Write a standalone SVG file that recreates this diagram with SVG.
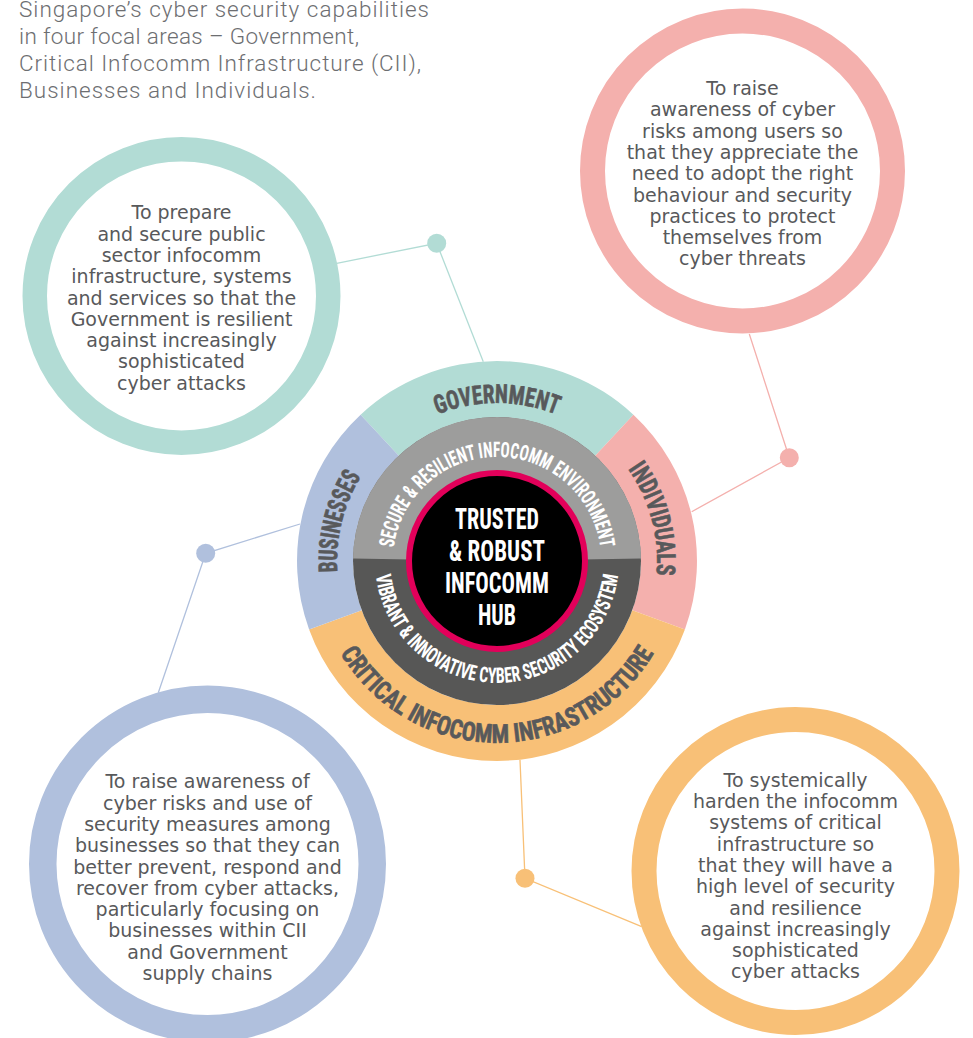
<svg xmlns="http://www.w3.org/2000/svg" width="973" height="1038" viewBox="0 0 973 1038">
<style>
.intro{font-family:Roboto,"Liberation Sans",sans-serif;font-weight:300;font-size:22.5px;fill:#6d6e71}
.desc{font-family:"DejaVu Sans","Liberation Sans",sans-serif;font-size:19px;fill:#58595b;text-anchor:middle}
.lbl{font-family:"Liberation Sans Narrow","Roboto Condensed","DejaVu Sans Condensed","Liberation Sans",sans-serif;font-weight:bold;font-size:26px;fill:#58595b;stroke:#58595b;stroke-width:0.6;text-anchor:middle}
.inner{font-family:"Liberation Sans Narrow","Roboto Condensed","DejaVu Sans Condensed","Liberation Sans",sans-serif;font-weight:bold;font-size:21.5px;fill:#ffffff;text-anchor:middle}
.hub{font-family:"Liberation Sans Narrow","Roboto Condensed","DejaVu Sans Condensed","Liberation Sans",sans-serif;font-weight:bold;font-size:29px;fill:#ffffff;text-anchor:middle}
.ring{fill:#ffffff}
.conn{fill:none;stroke-width:1.3}
</style>
<defs>
<path id="pGov" d="M 348.53 506.96 A 158 158 0 0 1 645.47 506.96"/>
<path id="pInd" d="M 510.94 401.61 A 160 160 0 0 1 588.78 692.07"/>
<path id="pBus" d="M 407.53 693.64 A 160 160 0 0 1 480.28 401.88"/>
<path id="pCii" d="M 317.8 592.6 A 182 182 0 0 0 676.2 592.6"/>
<path id="pSec" d="M 393 561 A 104 104 0 0 1 601 561"/>
<path id="pVib" d="M 375 561 A 122 122 0 0 0 619 561"/>
</defs>
<rect width="973" height="1038" fill="#ffffff"/>

<g id="intro">
<text class="intro" x="19" y="16.5" textLength="410">Singapore’s cyber security capabilities</text>
<text class="intro" x="19" y="43.5" textLength="340">in four focal areas – Government,</text>
<text class="intro" x="19" y="70.8" textLength="402">Critical Infocomm Infrastructure (CII),</text>
<text class="intro" x="19" y="97.8" textLength="297">Businesses and Individuals.</text>
</g>

<g id="connectors">
<polyline class="conn" stroke="#b2dcd5" points="336.7,263.3 436.7,243.3 483.3,361.7"/>
<circle cx="436.7" cy="243.3" r="9.5" fill="#b2dcd5"/>
<polyline class="conn" stroke="#f4b0ad" points="749.3,334 789.3,457.7 691.7,511.7"/>
<circle cx="789.3" cy="457.7" r="9.5" fill="#f4b0ad"/>
<polyline class="conn" stroke="#b0c0dd" points="300,524 205.7,553.3 158.3,692.7"/>
<circle cx="205.7" cy="553.3" r="9.5" fill="#b0c0dd"/>
<polyline class="conn" stroke="#f8c077" points="520,760 525,878.3 641.7,926.7"/>
<circle cx="525" cy="878.3" r="9.5" fill="#f8c077"/>
</g>

<g id="node-government-desc">
<circle class="ring" cx="181.5" cy="296" r="146.75" stroke="#b2dcd5" stroke-width="24.5"/>
<text class="desc" x="181.5" y="219.3">To prepare</text>
<text class="desc" x="181.5" y="240.6">and secure public</text>
<text class="desc" x="181.5" y="261.9">sector infocomm</text>
<text class="desc" x="181.5" y="283.2">infrastructure, systems</text>
<text class="desc" x="181.5" y="304.5">and services so that the</text>
<text class="desc" x="181.5" y="325.8">Government is resilient</text>
<text class="desc" x="181.5" y="347.1">against increasingly</text>
<text class="desc" x="181.5" y="368.4">sophisticated</text>
<text class="desc" x="181.5" y="389.7">cyber attacks</text>
</g>

<g id="node-individuals-desc">
<circle class="ring" cx="742.5" cy="171" r="150" stroke="#f4b0ad" stroke-width="25"/>
<text class="desc" x="742.5" y="95">To raise</text>
<text class="desc" x="742.5" y="116.3">awareness of cyber</text>
<text class="desc" x="742.5" y="137.6">risks among users so</text>
<text class="desc" x="742.5" y="158.9">that they appreciate the</text>
<text class="desc" x="742.5" y="180.2">need to adopt the right</text>
<text class="desc" x="742.5" y="201.5">behaviour and security</text>
<text class="desc" x="742.5" y="222.8">practices to protect</text>
<text class="desc" x="742.5" y="244.1">themselves from</text>
<text class="desc" x="742.5" y="265.4">cyber threats</text>
</g>

<g id="node-businesses-desc">
<circle class="ring" cx="207.5" cy="864" r="164.75" stroke="#b0c0dd" stroke-width="27.5"/>
<text class="desc" x="207.5" y="788.3">To raise awareness of</text>
<text class="desc" x="207.5" y="809.6">cyber risks and use of</text>
<text class="desc" x="207.5" y="830.9">security measures among</text>
<text class="desc" x="207.5" y="852.2">businesses so that they can</text>
<text class="desc" x="207.5" y="873.5">better prevent, respond and</text>
<text class="desc" x="207.5" y="894.8">recover from cyber attacks,</text>
<text class="desc" x="207.5" y="916.1">particularly focusing on</text>
<text class="desc" x="207.5" y="937.4">businesses within CII</text>
<text class="desc" x="207.5" y="958.7">and Government</text>
<text class="desc" x="207.5" y="980">supply chains</text>
</g>

<g id="node-cii-desc">
<circle class="ring" cx="795.5" cy="871" r="151.5" stroke="#f8c077" stroke-width="25"/>
<text class="desc" x="795.5" y="786.7">To systemically</text>
<text class="desc" x="795.5" y="808">harden the infocomm</text>
<text class="desc" x="795.5" y="829.3">systems of critical</text>
<text class="desc" x="795.5" y="850.6">infrastructure so</text>
<text class="desc" x="795.5" y="871.9">that they will have a</text>
<text class="desc" x="795.5" y="893.2">high level of security</text>
<text class="desc" x="795.5" y="914.5">and resilience</text>
<text class="desc" x="795.5" y="935.8">against increasingly</text>
<text class="desc" x="795.5" y="957.1">sophisticated</text>
<text class="desc" x="795.5" y="978.4">cyber attacks</text>
</g>

<g id="node-wheel">
<g id="seg-government">
<path d="M 360.6 414.7 A 200 200 0 0 1 633.4 414.7 L 595.2 455.7 A 144 144 0 0 0 398.8 455.7 Z" fill="#b2dcd5"/>
<text class="lbl"><textPath href="#pGov" startOffset="50%" textLength="122" lengthAdjust="spacingAndGlyphs">GOVERNMENT</textPath></text>
</g>
<g id="seg-individuals">
<path d="M 633.4 414.7 A 200 200 0 0 1 684.9 629.4 L 632.3 610.2 A 144 144 0 0 0 595.2 455.7 Z" fill="#f4b0ad"/>
<text class="lbl"><textPath href="#pInd" startOffset="50%" textLength="112" lengthAdjust="spacingAndGlyphs">INDIVIDUALS</textPath></text>
</g>
<g id="seg-cii">
<path d="M 684.9 629.4 A 200 200 0 0 1 309.1 629.4 L 361.7 610.2 A 144 144 0 0 0 632.3 610.2 Z" fill="#f8c077"/>
<text class="lbl"><textPath href="#pCii" startOffset="50%" textLength="378" lengthAdjust="spacingAndGlyphs">CRITICAL INFOCOMM INFRASTRUCTURE</textPath></text>
</g>
<g id="seg-businesses">
<path d="M 309.1 629.4 A 200 200 0 0 1 360.6 414.7 L 398.8 455.7 A 144 144 0 0 0 361.7 610.2 Z" fill="#b0c0dd"/>
<text class="lbl"><textPath href="#pBus" startOffset="50%" textLength="100" lengthAdjust="spacingAndGlyphs">BUSINESSES</textPath></text>
</g>
<g id="ring-inner">
<circle cx="497" cy="561" r="144" fill="#575756"/>
<path d="M 497 561 L 353.02 558.49 A 144 144 0 0 1 640.98 558.49 Z" fill="#9d9d9c"/>
<text class="inner"><textPath href="#pSec" startOffset="50%" textLength="300" lengthAdjust="spacingAndGlyphs">SECURE &amp; RESILIENT INFOCOMM ENVIRONMENT</textPath></text>
<text class="inner"><textPath href="#pVib" startOffset="50%" textLength="354" lengthAdjust="spacingAndGlyphs">VIBRANT &amp; INNOVATIVE CYBER SECURITY ECOSYSTEM</textPath></text>
</g>
<g id="hub">
<circle cx="497" cy="561" r="88" fill="#000000" stroke="#e2005a" stroke-width="6"/>
<text class="hub" x="497" y="529" textLength="84" lengthAdjust="spacingAndGlyphs">TRUSTED</text>
<text class="hub" x="497" y="561" textLength="96" lengthAdjust="spacingAndGlyphs">&amp; ROBUST</text>
<text class="hub" x="497" y="593" textLength="104" lengthAdjust="spacingAndGlyphs">INFOCOMM</text>
<text class="hub" x="497" y="625" textLength="38" lengthAdjust="spacingAndGlyphs">HUB</text>
</g>
</g>
</svg>
